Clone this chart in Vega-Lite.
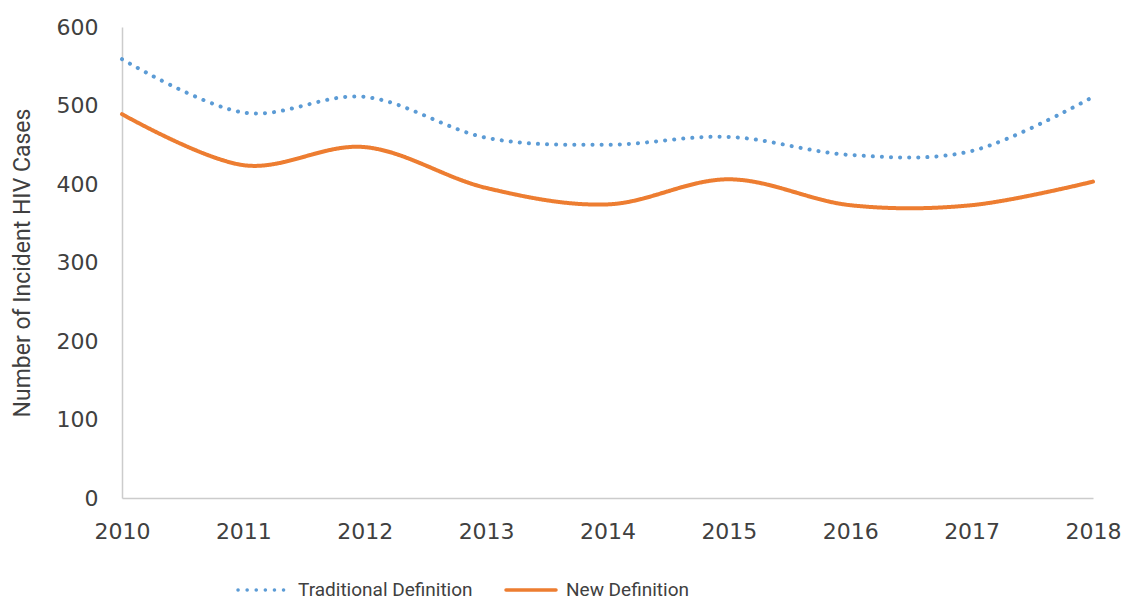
{
  "$schema": "https://vega.github.io/schema/vega-lite/v6.json",
  "width": 971,
  "height": 471,
  "autosize": {"type": "none"},
  "padding": {"left": 122, "top": 27, "right": 33, "bottom": 102},
  "background": "white",
  "config": {"view": {"stroke": null}},
  "data": {
    "values": [
      {"year": "2010", "series": "Traditional Definition", "cases": 559},
      {"year": "2011", "series": "Traditional Definition", "cases": 491},
      {"year": "2012", "series": "Traditional Definition", "cases": 511},
      {"year": "2013", "series": "Traditional Definition", "cases": 459},
      {"year": "2014", "series": "Traditional Definition", "cases": 450},
      {"year": "2015", "series": "Traditional Definition", "cases": 460},
      {"year": "2016", "series": "Traditional Definition", "cases": 437},
      {"year": "2017", "series": "Traditional Definition", "cases": 442},
      {"year": "2018", "series": "Traditional Definition", "cases": 511},
      {"year": "2010", "series": "New Definition", "cases": 489},
      {"year": "2011", "series": "New Definition", "cases": 424},
      {"year": "2012", "series": "New Definition", "cases": 447},
      {"year": "2013", "series": "New Definition", "cases": 395},
      {"year": "2014", "series": "New Definition", "cases": 374},
      {"year": "2015", "series": "New Definition", "cases": 406},
      {"year": "2016", "series": "New Definition", "cases": 373},
      {"year": "2017", "series": "New Definition", "cases": 373},
      {"year": "2018", "series": "New Definition", "cases": 403}
    ]
  },
  "mark": {"type": "line", "interpolate": "cardinal", "tension": 0, "strokeCap": "round", "strokeWidth": 4},
  "encoding": {
    "x": {
      "field": "year",
      "type": "ordinal",
      "scale": {"type": "point", "padding": 0},
      "axis": {
        "title": null,
        "labelAngle": 0,
        "ticks": false,
        "domainColor": "#CCCCCC",
        "domainWidth": 1.5,
        "labelFont": "DejaVu Sans",
        "labelFontSize": 22,
        "labelColor": "#404040",
        "labelPadding": 23
      }
    },
    "y": {
      "field": "cases",
      "type": "quantitative",
      "scale": {"domain": [0, 600], "nice": false},
      "axis": {
        "title": "Number of Incident HIV Cases",
        "titleFont": "Roboto",
        "titleFontSize": 23,
        "titleFontWeight": "normal",
        "titleColor": "#404040",
        "titlePadding": 22,
        "values": [0, 100, 200, 300, 400, 500, 600],
        "grid": false,
        "ticks": false,
        "domainColor": "#CCCCCC",
        "domainWidth": 1.5,
        "labelFont": "DejaVu Sans",
        "labelFontSize": 22,
        "labelColor": "#404040",
        "labelPadding": 24
      }
    },
    "color": {
      "field": "series",
      "type": "nominal",
      "scale": {"domain": ["Traditional Definition", "New Definition"], "range": ["#5B9BD5", "#ED7D31"]},
      "legend": {
        "title": null,
        "orient": "none",
        "legendX": 129,
        "legendY": 551,
        "direction": "horizontal",
        "symbolType": "M-2.5,0H2.5",
        "symbolSize": 400,
        "symbolStrokeWidth": 3.5,
        "labelFont": "Roboto",
        "labelFontSize": 19,
        "labelColor": "#404040",
        "labelOffset": 23,
        "columnPadding": 26,
        "labelLimit": 400,
        "encode": {"symbols": {"update": {"strokeCap": {"value": "round"}, "fill": {"value": "transparent"}}}}
      }
    },
    "strokeDash": {
      "field": "series",
      "type": "nominal",
      "scale": {"domain": ["Traditional Definition", "New Definition"], "range": [[0.1, 9], [1, 0]]},
      "legend": null
    }
  }
}
